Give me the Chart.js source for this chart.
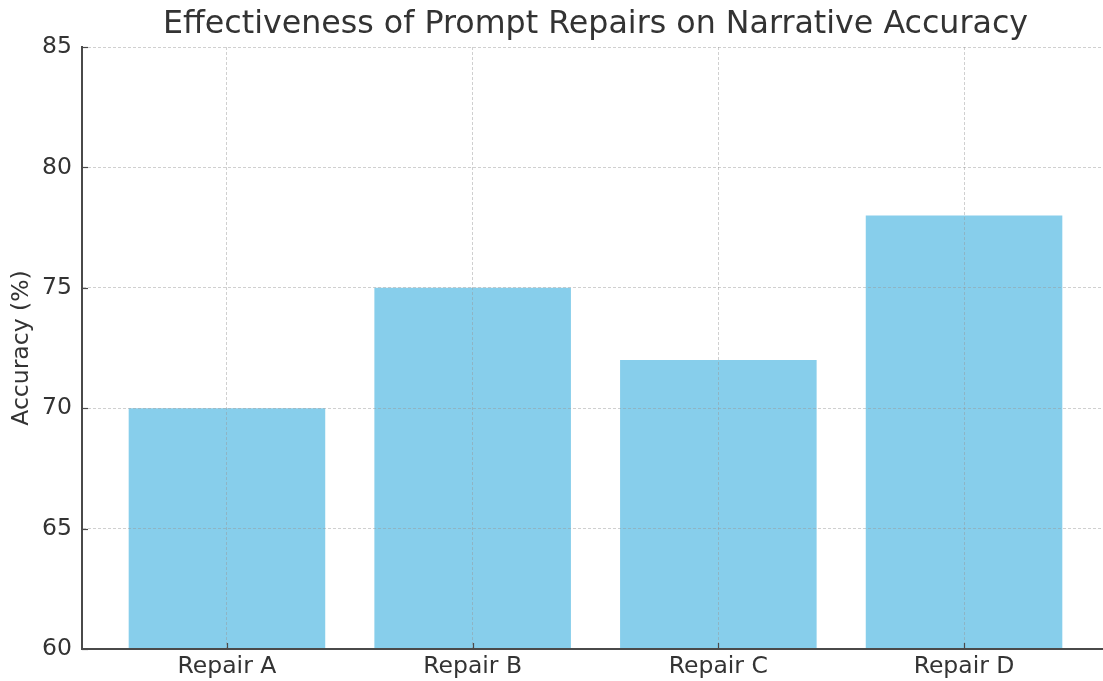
<!DOCTYPE html>
<html>
<head>
<meta charset="utf-8">
<script src="https://cdn.jsdelivr.net/npm/chart.js@4/dist/chart.umd.min.js"></script>
<style>
  html, body { margin: 0; padding: 0; background: #fff; overflow: hidden; }
  #wrap { width: 1109px; height: 681px; }
</style>
</head>
<body>
<div id="wrap"><canvas id="chart" width="1109" height="681"></canvas></div>
<script>
// Chart content
const chartTitle = 'Effectiveness of Prompt Repairs on Narrative Accuracy';
const yAxisTitle = 'Accuracy (%)';
const categories = ['Repair A', 'Repair B', 'Repair C', 'Repair D'];
const accuracy = [70, 75, 72, 78];
const yTicks = [60, 65, 70, 75, 80, 85];

const textColor = '#333333';
const axisColor = '#4a4a4a';
const gridColor = 'rgba(150,150,150,0.45)';
const fontFamily = '"DejaVu Sans", Verdana, sans-serif';
const labelSize = 23.5;

// Title centred over the plotting area, plus short inward tick marks
const decorations = {
  id: 'decorations',
  afterDraw(chart) {
    const { ctx, chartArea, scales } = chart;
    ctx.save();
    ctx.strokeStyle = axisColor;
    ctx.lineWidth = 1.2;
    scales.y.ticks.forEach(t => {
      const py = Math.round(scales.y.getPixelForValue(t.value)) + 0.5;
      ctx.beginPath();
      ctx.moveTo(chartArea.left, py);
      ctx.lineTo(chartArea.left + 6, py);
      ctx.stroke();
    });
    scales.x.ticks.forEach(t => {
      const px = Math.round(scales.x.getPixelForValue(t.value)) + 0.5;
      ctx.beginPath();
      ctx.moveTo(px, chartArea.bottom);
      ctx.lineTo(px, chartArea.bottom - 6);
      ctx.stroke();
    });
    ctx.fillStyle = textColor;
    ctx.font = '31.7px ' + fontFamily;
    ctx.textAlign = 'center';
    ctx.textBaseline = 'alphabetic';
    ctx.fillText(chartTitle, (chartArea.left + chartArea.right) / 2, 33);
    ctx.restore();
  }
};

const gridOpts = {
  z: 1,
  color: gridColor,
  lineWidth: 1,
  offset: false,
  drawTicks: false,
  tickLength: 0
};

new Chart(document.getElementById('chart'), {
  type: 'bar',
  data: {
    datasets: [{
      data: categories.map((c, i) => ({ x: i, y: accuracy[i] })),
      backgroundColor: '#87CEEB',
      borderWidth: 0,
      barPercentage: 1.0,
      categoryPercentage: 0.8
    }]
  },
  options: {
    responsive: false,
    animation: false,
    layout: { padding: { top: 47, left: 0, right: 0, bottom: 0 } },
    plugins: {
      legend: { display: false },
      tooltip: { enabled: false },
      title: { display: false }
    },
    scales: {
      x: {
        type: 'linear',
        offset: false,
        min: -0.59,
        max: 3.59,
        afterBuildTicks(scale) {
          scale.ticks = categories.map((c, i) => ({ value: i }));
        },
        afterFit(scale) { scale.height = 32; },
        ticks: {
          callback: v => categories[v],
          color: textColor,
          font: { family: fontFamily, size: labelSize },
          padding: 4,
          maxRotation: 0,
          autoSkip: false
        },
        grid: gridOpts,
        border: { display: true, color: axisColor, width: 2, dash: [3, 2], z: 2 }
      },
      y: {
        min: 60,
        max: 85,
        afterBuildTicks(scale) {
          scale.ticks = yTicks.map(v => ({ value: v }));
        },
        afterFit(scale) { scale.width = 82; },
        title: {
          display: true,
          text: yAxisTitle,
          color: textColor,
          font: { family: fontFamily, size: labelSize },
          padding: { top: 8, bottom: 0 }
        },
        ticks: {
          color: textColor,
          font: { family: fontFamily, size: labelSize },
          padding: 10
        },
        grid: gridOpts,
        border: { display: true, color: axisColor, width: 2, dash: [3, 2], z: 2 }
      }
    }
  },
  plugins: [decorations]
});
</script>
</body>
</html>
